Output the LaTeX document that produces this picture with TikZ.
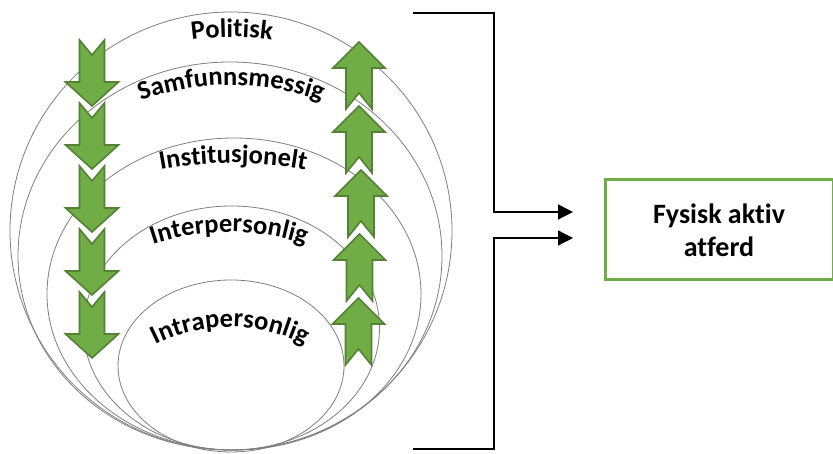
\documentclass[tikz,border=0pt]{standalone}
\usepackage{fontspec}
\setmainfont{Carlito}[Ligatures={NoCommon}]
\usetikzlibrary{arrows.meta,decorations.text}
\definecolor{arrfill}{HTML}{70AD47}
\definecolor{arrline}{HTML}{548235}
\definecolor{ringline}{HTML}{7F7F7F}
\newcommand\lblfont{\fontsize{26.5}{31}\selectfont\bfseries}
\tikzset{
  ring/.style={draw=ringline, line width=0.8pt},
  greenarrow/.style={fill=arrfill, draw=arrline, line width=1.6pt, line join=miter},
  downarr/.pic={\draw[greenarrow] (-12.5,0) -- (0,-15) -- (12.5,0) -- (12.5,-42) -- (26.5,-42) -- (0,-66) -- (-26.5,-42) -- (-12.5,-42) -- cycle;},
  uparr/.pic={\draw[greenarrow] (0,0) -- (26,-26) -- (13,-26) -- (13,-67) -- (0,-51) -- (-13,-67) -- (-13,-26) -- (-26,-26) -- cycle;},
  bracket/.style={draw=black, line width=1.3pt},
  tip/.style={-{Triangle[length=15pt,width=15pt]}},
  outbox/.style={draw=arrfill, line width=3pt, minimum width=228pt, minimum height=100pt, align=center, font=\fontsize{28}{33}\selectfont\bfseries},
  arclabel/.style={decorate, decoration={text along path, text align=center, text={|\lblfont|#1}}}
}
\begin{document}
\begin{tikzpicture}[x=1pt,y=1pt]
\fill[white] (0,0) rectangle (833,454);
\useasboundingbox (0,0) rectangle (833,454);
% rings
\draw[ring] (231,223) ellipse [x radius=221pt, y radius=219pt];
\draw[ring] (230,198) ellipse [x radius=212pt, y radius=194pt];
\draw[ring] (234,160) ellipse [x radius=187pt, y radius=156pt];
\draw[ring] (231.5,126) ellipse [x radius=148pt, y radius=122pt];
\draw[ring] (231,88) ellipse [x radius=113pt, y radius=86pt];
% down arrows
\foreach \t in {414,351,288,225,162} { \pic at (92,\t) {downarr}; }
% up arrows
\pic at (359,412) {uparr};
\pic at (359,348) {uparr};
\pic at (361,284) {uparr};
\pic at (359.5,220) {uparr};
\pic at (358.5,156) {uparr};
% curved labels
\path[arclabel=Politisk] (232,117) ++(110:300pt) arc[start angle=110, end angle=70, radius=300pt];
\path[arclabel=Samfunnsmessig] (231,109) ++(130:260pt) arc[start angle=130, end angle=50, radius=260pt];
\path[arclabel=Institusjonelt] (233,-109) ++(115:400pt) arc[start angle=115, end angle=65, radius=400pt];
\path[arclabel=Interpersonlig] (229,-18) ++(130:240pt) arc[start angle=130, end angle=50, radius=240pt];
\path[arclabel=Intrapersonlig] (230,-38) ++(150:165pt) arc[start angle=150, end angle=30, radius=165pt];
% result box
\node[outbox] (box) at (719,224) {Fysisk aktiv\\atferd};
% bracket connectors
\coordinate (t1) at (413,441);
\coordinate (j1) at (494,441);
\coordinate (a1) at (573,242);
\coordinate (t2) at (413,5);
\coordinate (j2) at (494,5);
\coordinate (a2) at (573,216);
\draw[bracket,tip] (t1) -- (j1) |- (a1);
\draw[bracket,tip] (t2) -- (j2) |- (a2);
\end{tikzpicture}
\end{document}
